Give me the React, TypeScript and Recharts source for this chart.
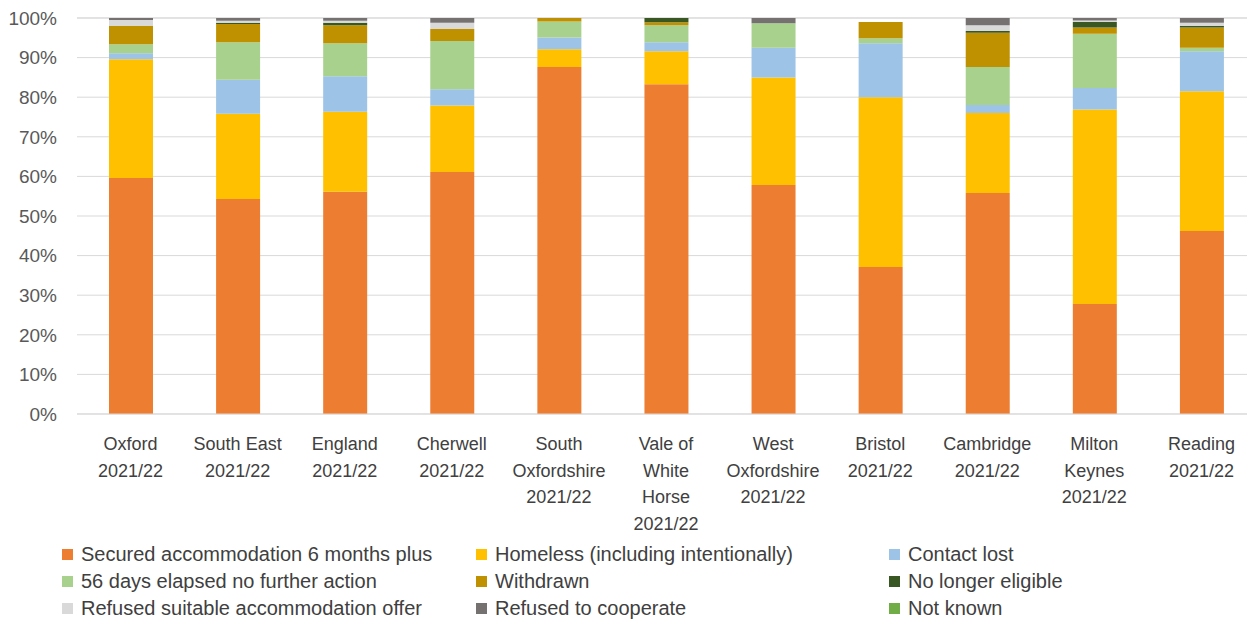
import React from "react";
import {
  BarChart,
  Bar,
  XAxis,
  YAxis,
  CartesianGrid,
  Legend,
} from "recharts";

const categories = [
  "Oxford 2021/22",
  "South East 2021/22",
  "England 2021/22",
  "Cherwell 2021/22",
  "South Oxfordshire 2021/22",
  "Vale of White Horse 2021/22",
  "West Oxfordshire 2021/22",
  "Bristol 2021/22",
  "Cambridge 2021/22",
  "Milton Keynes 2021/22",
  "Reading 2021/22",
];

// how each category label wraps under the axis
const tickLines = [
  ["Oxford", "2021/22"],
  ["South East", "2021/22"],
  ["England", "2021/22"],
  ["Cherwell", "2021/22"],
  ["South", "Oxfordshire", "2021/22"],
  ["Vale of", "White", "Horse", "2021/22"],
  ["West", "Oxfordshire", "2021/22"],
  ["Bristol", "2021/22"],
  ["Cambridge", "2021/22"],
  ["Milton", "Keynes", "2021/22"],
  ["Reading", "2021/22"],
];

const secured = [59.6, 54.3, 56.1, 61.1, 87.6, 83.3, 57.8, 37.1, 55.8, 27.8, 46.2];
const homeless = [30.0, 21.5, 20.2, 16.8, 4.5, 8.3, 27.2, 42.9, 20.2, 49.1, 35.3];
const contactLost = [1.5, 8.6, 9.0, 4.1, 3.0, 2.3, 7.5, 13.6, 2.0, 5.4, 10.1];
const elapsed56 = [2.3, 9.5, 8.3, 12.2, 4.0, 4.3, 6.2, 1.3, 9.6, 13.7, 0.9];
const withdrawn = [4.6, 4.6, 4.6, 3.0, 0.9, 0.7, 0, 4.1, 8.7, 1.6, 5.1];
const noLongerEligible = [0, 0.3, 0.6, 0, 0, 1.1, 0, 0, 0.4, 1.4, 0.4];
const refusedOffer = [1.5, 0.5, 0.5, 1.6, 0, 0, 0, 0, 1.5, 0.4, 0.8];
const refusedCooperate = [0.5, 0.7, 0.7, 1.2, 0, 0, 1.3, 0, 1.8, 0.6, 1.2];
const notKnown = [0, 0, 0, 0, 0, 0, 0, 0, 0, 0, 0];

const yTicks = [0, 10, 20, 30, 40, 50, 60, 70, 80, 90, 100];

const series = [
  { key: "secured", name: "Secured accommodation 6 months plus", color: "#ED7D31", values: secured },
  { key: "homeless", name: "Homeless (including intentionally)", color: "#FFC000", values: homeless },
  { key: "contactLost", name: "Contact lost", color: "#9DC3E6", values: contactLost },
  { key: "elapsed56", name: "56 days elapsed no further action", color: "#A9D18E", values: elapsed56 },
  { key: "withdrawn", name: "Withdrawn", color: "#BF9000", values: withdrawn },
  { key: "noLongerEligible", name: "No longer eligible", color: "#385723", values: noLongerEligible },
  { key: "refusedOffer", name: "Refused suitable accommodation offer", color: "#D9D9D9", values: refusedOffer },
  { key: "refusedCooperate", name: "Refused to cooperate", color: "#767171", values: refusedCooperate },
  { key: "notKnown", name: "Not known", color: "#70AD47", values: notKnown },
];

const data = categories.map((name, i) => {
  const row: Record<string, string | number> = { name };
  series.forEach((s) => {
    row[s.key] = s.values[i];
  });
  return row;
});

const FONT = "'Liberation Sans', Arial, sans-serif";

const CategoryTick = (props: any) => {
  const { x, y, index } = props;
  const lines = tickLines[index] || [String(props.payload.value)];
  return (
    <text
      x={x}
      y={y}
      textAnchor="middle"
      fill="#404040"
      fontSize={18}
      fontFamily={FONT}
    >
      {lines.map((line: string, i: number) => (
        <tspan key={i} x={x} dy={i === 0 ? 28 : 26.7}>
          {line}
        </tspan>
      ))}
    </text>
  );
};

const LegendGrid = () => {
  const colLeft = [62, 476, 889];
  return (
    <div style={{ position: "relative", width: 1255, height: 84 }}>
      {series.map((s, i) => {
        const col = i % 3;
        const row = Math.floor(i / 3);
        return (
          <div
            key={s.key}
            style={{
              position: "absolute",
              left: colLeft[col],
              top: 9 + row * 27,
              display: "flex",
              alignItems: "center",
              fontFamily: FONT,
              fontSize: 20,
              color: "#404040",
              whiteSpace: "nowrap",
              lineHeight: "22px",
            }}
          >
            <span
              style={{
                display: "inline-block",
                width: 11,
                height: 11,
                background: s.color,
                marginRight: 8,
              }}
            />
            {s.name}
          </div>
        );
      })}
    </div>
  );
};

export default function App() {
  return (
    <div style={{ margin: "-8px 0 0 -8px", width: 1255, height: 622, background: "#fff" }}>
      <BarChart
        width={1255}
        height={622}
        data={data}
        barSize={44}
        margin={{ top: 18, right: 0, bottom: 4, left: 0 }}
      >
        <CartesianGrid vertical={false} stroke="#D9D9D9" />
        <XAxis
          dataKey="name"
          height={120}
          interval={0}
          tickLine={false}
          axisLine={{ stroke: "#D9D9D9" }}
          tick={<CategoryTick />}
        />
        <YAxis
          width={77}
          domain={[0, 100]}
          ticks={yTicks}
          tickFormatter={(v) => `${v}%`}
          axisLine={false}
          tickLine={false}
          tickMargin={14}
          tick={{ fill: "#595959", fontSize: 19, fontFamily: FONT }}
        />
        <Legend verticalAlign="bottom" content={<LegendGrid />} wrapperStyle={{ left: 0, width: 1255 }} />
        {series.map((s) => (
          <Bar
            key={s.key}
            dataKey={s.key}
            name={s.name}
            stackId="a"
            fill={s.color}
            isAnimationActive={false}
          />
        ))}
      </BarChart>
    </div>
  );
}
